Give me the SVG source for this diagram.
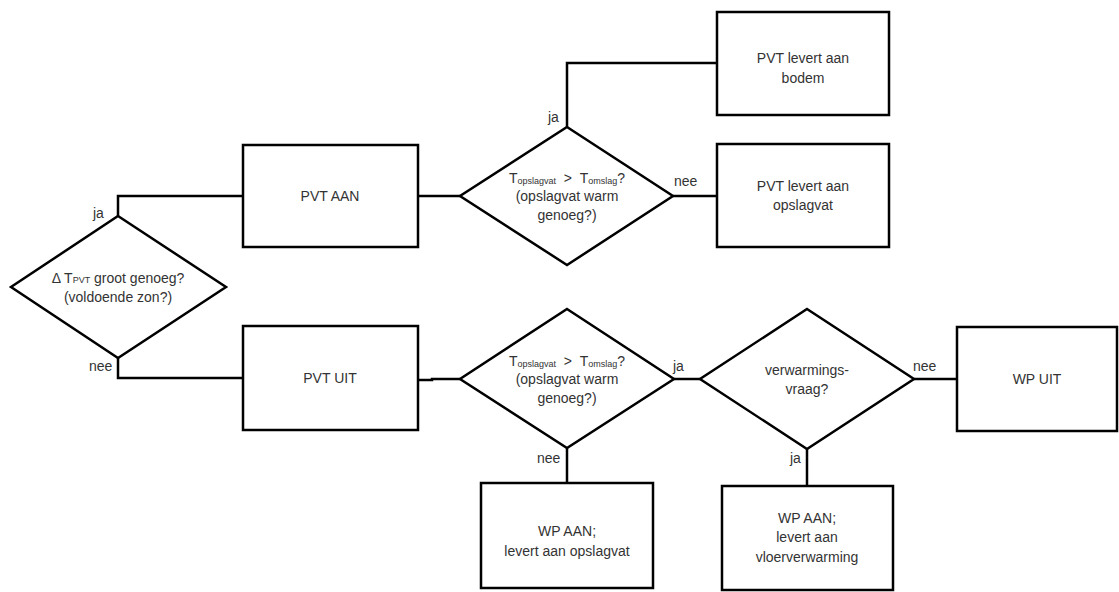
<svg xmlns="http://www.w3.org/2000/svg" width="1119" height="592" viewBox="0 0 1119 592">
<style>
.s{fill:#fff;stroke:#000;stroke-width:2.5}
.c{fill:none;stroke:#000;stroke-width:2.5}
text{font-family:"Liberation Sans",Arial,sans-serif;font-size:14px;fill:#333}
.m{text-anchor:middle}
.sub{font-size:9px}
</style>
<rect width="1119" height="592" fill="#fff"/>
<g id="connectors">
<polyline class="c" points="118,216 118,196 243,196"/>
<polyline class="c" points="118,358 118,378 243,378"/>
<line class="c" x1="418" y1="196" x2="460" y2="196"/>
<polyline class="c" points="567,127 567,63 717,63"/>
<line class="c" x1="673" y1="196" x2="717" y2="196"/>
<polyline class="c" points="418,380 432,380 432,379 460,379"/>
<line class="c" x1="674" y1="379" x2="700" y2="379"/>
<line class="c" x1="914" y1="379" x2="957" y2="379"/>
<line class="c" x1="567" y1="448" x2="567" y2="483"/>
<line class="c" x1="807" y1="449" x2="807" y2="486"/>
<text x="93" y="218">ja</text>
<text x="89" y="371">nee</text>
<text x="548" y="122">ja</text>
<text x="674" y="186">nee</text>
<text x="673" y="371">ja</text>
<text x="537" y="463">nee</text>
<text x="913" y="371">nee</text>
<text x="790" y="463">ja</text>
</g>
<g id="d1">
<polygon class="s" points="118,216 226,287 118,358 11,287"/>
<text class="m" x="118" y="283">Δ T<tspan class="sub">PVT</tspan> groot genoeg?</text>
<text class="m" x="118" y="302">(voldoende zon?)</text>
</g>
<g id="pvt-aan">
<rect class="s" x="243" y="145" width="175" height="102"/>
<text class="m" x="330" y="201">PVT AAN</text>
</g>
<g id="pvt-uit">
<rect class="s" x="243" y="326" width="175" height="104"/>
<text class="m" x="330" y="383">PVT UIT</text>
</g>
<g id="d2">
<polygon class="s" points="567,127 673,196 567,265 460,196"/>
<text class="m" x="567" y="183">T<tspan class="sub" dy="1">opslagvat</tspan><tspan dy="-1">&#160;&#160;&gt;&#160;&#160;T</tspan><tspan class="sub" dy="1">omslag</tspan><tspan dy="-1">?</tspan></text>
<text class="m" x="567" y="201">(opslagvat warm</text>
<text class="m" x="567" y="220">genoeg?)</text>
</g>
<g id="bodem">
<rect class="s" x="717" y="12" width="172" height="103"/>
<text class="m" x="803" y="63">PVT levert aan</text>
<text class="m" x="803" y="83">bodem</text>
</g>
<g id="opslag">
<rect class="s" x="717" y="144" width="172" height="103"/>
<text class="m" x="803" y="191">PVT levert aan</text>
<text class="m" x="803" y="210">opslagvat</text>
</g>
<g id="d3">
<polygon class="s" points="567,309 674,379 567,448 460,379"/>
<text class="m" x="567" y="366">T<tspan class="sub" dy="1">opslagvat</tspan><tspan dy="-1">&#160;&#160;&gt;&#160;&#160;T</tspan><tspan class="sub" dy="1">omslag</tspan><tspan dy="-1">?</tspan></text>
<text class="m" x="567" y="384">(opslagvat warm</text>
<text class="m" x="567" y="403">genoeg?)</text>
</g>
<g id="d4">
<polygon class="s" points="807,309 914,379 807,449 700,379"/>
<text class="m" x="807" y="375">verwarmings-</text>
<text class="m" x="807" y="394">vraag?</text>
</g>
<g id="wp-uit">
<rect class="s" x="957" y="327" width="160" height="104"/>
<text class="m" x="1037" y="384">WP UIT</text>
</g>
<g id="wp-aan-1">
<rect class="s" x="481" y="483" width="172" height="105"/>
<text class="m" x="567" y="536">WP AAN;</text>
<text class="m" x="567" y="556">levert aan opslagvat</text>
</g>
<g id="wp-aan-2">
<rect class="s" x="722" y="486" width="171" height="104"/>
<text class="m" x="807" y="523">WP AAN;</text>
<text class="m" x="807" y="542">levert aan</text>
<text class="m" x="807" y="562">vloerverwarming</text>
</g>
</svg>
